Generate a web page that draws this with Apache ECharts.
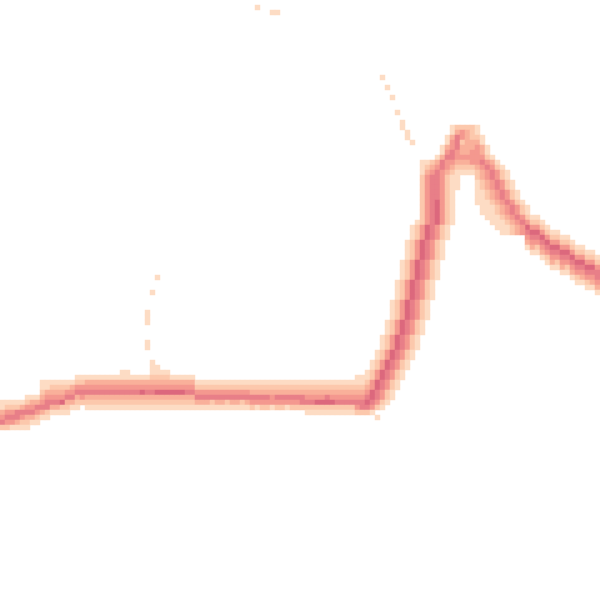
<!DOCTYPE html>
<html><head><meta charset="utf-8">
<script src="https://cdn.jsdelivr.net/npm/echarts@6/dist/echarts.min.js"></script>
<style>html,body{margin:0;padding:0;background:#fff}#c{width:600px;height:600px}</style>
</head><body><div id="c"></div>
<script>
// grid of 120 x 120 cells; levels 1 (palest) .. 6 (darkest)
const nCols = 120, nRows = 120;
const levelColors = ['#fddcc4', '#fcc8ac', '#f9b09a', '#f4988f', '#e87f88', '#dc687d'];

// vertical runs: [column, first row, levels top->bottom]
const colRuns = [
  [0,80,"113452"],[1,80,"124542"],[2,80,"124541"],[3,80,"125531"],[4,80,"135421"],
  [5,79,"1245321"],[6,79,"134531"],[7,79,"135421"],[8,76,"11234531"],[9,76,"11345521"],
  [10,76,"1234531"],[11,76,"1234531"],[12,76,"1234621"],[13,76,"1245321"],[14,76,"134531"],
  [15,75,"1245321"],[16,75,"124542"],[17,75,"1345321"],[18,75,"1345321"],[19,75,"1345321"],
  [20,75,"1345321"],[21,75,"1345321"],[22,75,"1345321"],[23,75,"1345321"],[24,74,"11345321"],
  [25,74,"11345321"],[26,75,"1345321"],[27,75,"1345321"],[28,75,"1346321"],[29,75,"1345321"],
  [30,72,"1112345321"],[31,73,"112346321"],[32,74,"12346321"],[33,74,"12346321"],[34,75,"1346321"],
  [35,75,"1346321"],[36,75,"1346321"],[37,75,"1345321"],[38,75,"1345321"],[39,76,"124531"],
  [40,76,"124531"],[41,76,"124531"],[42,76,"124521"],[43,76,"124531"],[44,76,"124531"],
  [45,76,"124521"],[46,76,"124531"],[47,76,"124531"],[48,76,"124521"],[49,76,"124531"],
  [50,76,"123542"],[51,76,"123541"],[52,76,"123542"],[53,76,"123542"],[54,76,"123441"],
  [55,76,"123542"],[56,76,"123542"],[57,76,"123541"],[58,76,"123542"],[59,76,"123542"],
  [60,76,"123552"],[61,76,"1234521"],[62,76,"1234521"],[63,76,"1234621"],[64,76,"1234621"],
  [65,76,"1235621"],[66,76,"1234621"],[67,76,"1234521"],[68,76,"1234521"],[69,76,"1234521"],
  [70,76,"1234521"],[71,75,"11234521"],[72,75,"11234521"],[73,75,"12345521"],
  [105,42,"12465431"],[106,43,"12465431"],[107,43,"12465421"],[108,44,"12465431"],[109,45,"12465421"],
  [110,46,"12465431"],[111,46,"12465421"],[112,47,"12465431"],[113,47,"12465421"],[114,48,"12465431"],
  [115,49,"12465421"],[116,49,"12465431"],[117,50,"12465421"],[118,50,"12465431"],[119,51,"12455431"]
];

// horizontal runs: [row, first column, levels left->right] (0 = empty)
const rowRuns = [
  [25,90,"122221"],[26,90,"134321"],[27,89,"13543221"],[28,89,"14523331"],
  [29,88,"1345333431"],[30,88,"1454334431"],[31,87,"135544444421"],
  [32,84,"1123544333445431"],[33,84,"12345432222345421"],[34,84,"134543211112345421"],
  [35,84,"24554211"],[36,84,"24554211"],[37,84,"24554211"],[38,84,"2455421"],[39,84,"2455421"],
  [40,84,"2456421"],[41,84,"2456421"],[42,84,"2456421"],[43,84,"2456421"],[44,83,"12456421"],
  [45,82,"12465421"],[46,82,"12465421"],[47,82,"12465421"],[48,81,"12465421"],[49,81,"12465421"],
  [50,81,"12465421"],[51,81,"12465421"],[52,80,"12465421"],[53,80,"12465421"],[54,80,"12465421"],
  [55,80,"12465421"],[56,79,"12465421"],[57,79,"12465421"],[58,79,"12465421"],[59,79,"12465421"],
  [60,78,"12465421"],[61,78,"12465421"],[62,78,"12465421"],[63,78,"12465421"],[64,77,"12465421"],
  [65,77,"12465421"],[66,77,"12465421"],[67,76,"12465421"],[68,76,"12465421"],[69,76,"12465421"],
  [70,75,"12465421"],[71,75,"12465421"],[72,74,"12465421"],[73,74,"12465421"],[74,73,"12465421"],
  [75,73,"12465421"],[76,72,"12465421"],[77,72,"12465421"],[78,71,"12465421"],[79,71,"12465421"],
  [80,70,"12465421"],[81,69,"12455421"],[82,70,"12221"],[83,75,"1"],
  [35,95,"2345421"],[36,95,"12345421"],[37,95,"12345421"],[38,95,"112345421"],[39,95,"112345421"],
  [40,95,"1112345421"],[41,96,"1112345421"],[42,96,"1112345421"],[43,97,"1112345421"],[44,98,"1112345421"],
  [45,99,"111234542"],[46,100,"11234542"]
];

// isolated faint cells: [column, row]
const dots = [
  [31,55],[30,58],[29,62],[29,63],[29,64],[29,68],[29,69],[51,1],[54,2],[55,2],
  [76,15],[77,17],[78,19],[79,22],[80,24],[80,25],[81,26],[81,27],[82,28]
];

const cells = new Map();
function put(c, r, v) {
  if (v <= 0) return;
  const k = c + ',' + r;
  if (!cells.has(k) || cells.get(k) < v) cells.set(k, v);
}
colRuns.forEach(([c, r0, s]) => { for (let i = 0; i < s.length; i++) put(c, r0 + i, +s[i]); });
rowRuns.forEach(([r, c0, s]) => { for (let i = 0; i < s.length; i++) put(c0 + i, r, +s[i]); });
dots.forEach(([c, r]) => put(c, r, 1));
const data = [];
cells.forEach((v, k) => { const [c, r] = k.split(',').map(Number); data.push([c, r, v]); });

const xCats = Array.from({length: nCols}, (_, i) => String(i));
const yCats = Array.from({length: nRows}, (_, i) => String(i));

const chart = echarts.init(document.getElementById('c'));
chart.setOption({
  animation: false,
  grid: {left: 0, right: 0, top: 0, bottom: 0},
  xAxis: {type: 'category', data: xCats, show: false},
  yAxis: {type: 'category', data: yCats, inverse: true, show: false},
  visualMap: {show: false, min: 1, max: 6, dimension: 2, inRange: {color: levelColors}},
  series: [{
    type: 'heatmap',
    data: data,
    itemStyle: {borderWidth: 0},
    emphasis: {disabled: true}
  }]
});
</script>
</body></html>
